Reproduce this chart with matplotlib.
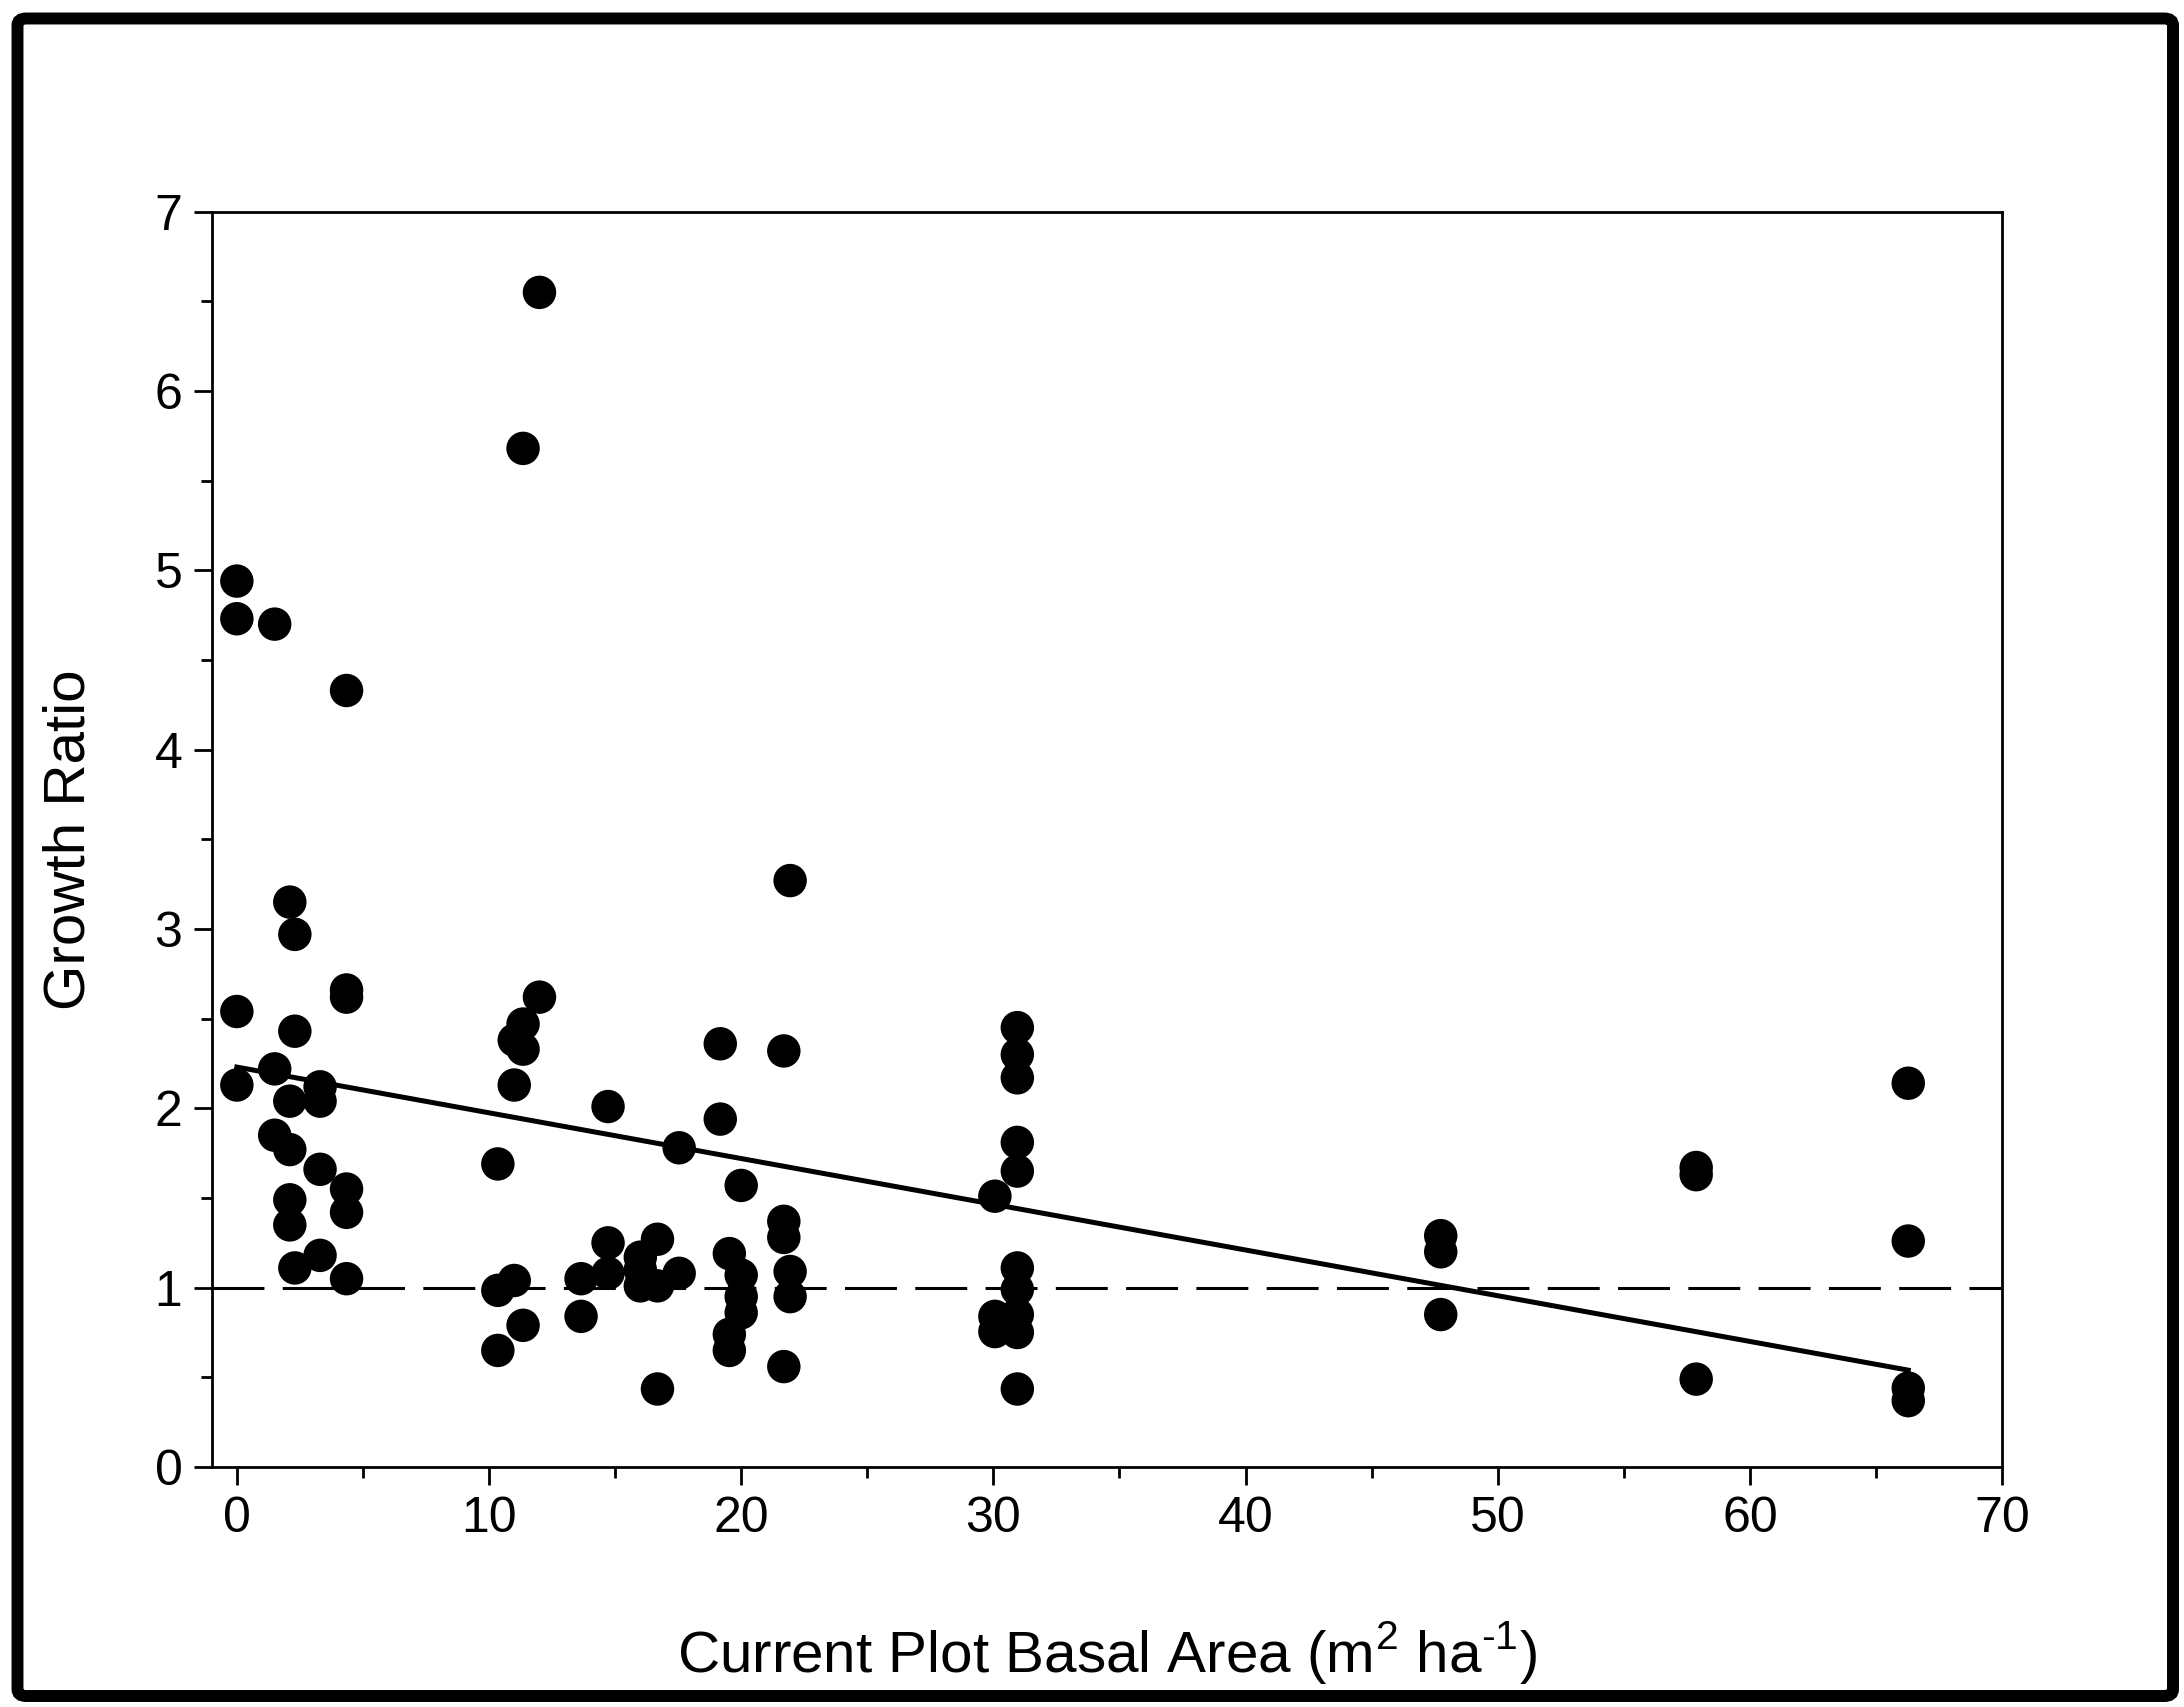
import matplotlib
matplotlib.use("Agg")
import matplotlib.pyplot as plt
from matplotlib.patches import FancyBboxPatch
from matplotlib.ticker import MultipleLocator

plt.rcParams['font.family'] = ['Liberation Sans', 'DejaVu Sans']

# basal area (x) and growth ratio (y)
basal_area = [0, 0, 0, 0,
              1.5, 1.5, 1.5,
              2.1, 2.1, 2.1, 2.1, 2.1,
              2.3, 2.3, 2.3,
              3.3, 3.3, 3.3, 3.3,
              4.35, 4.35, 4.35, 4.35, 4.35, 4.35,
              10.35, 10.35, 10.35,
              11.0, 11.0, 11.0,
              11.35, 11.35, 11.35, 11.35,
              12.0, 12.0,
              13.65, 13.65,
              14.72, 14.72, 14.72,
              16.0, 16.0, 16.0,
              16.68, 16.68, 16.68,
              17.54, 17.54,
              19.17, 19.17,
              19.53, 19.53, 19.53,
              20.0, 20.0, 20.0, 20.0,
              21.69, 21.69, 21.69, 21.69,
              21.94, 21.94, 21.94,
              30.06, 30.06, 30.06,
              30.95, 30.95, 30.95, 30.95, 30.95, 30.95, 30.95, 30.95, 30.95, 30.95,
              47.74, 47.74, 47.74,
              57.87, 57.87, 57.87,
              66.28, 66.28, 66.28, 66.28]
growth_ratio = [4.94, 4.73, 2.54, 2.13,
                4.70, 2.22, 1.85,
                3.15, 2.04, 1.77, 1.49, 1.35,
                2.97, 2.43, 1.11,
                2.12, 2.04, 1.66, 1.18,
                4.33, 2.66, 2.62, 1.55, 1.42, 1.05,
                1.69, 0.985, 0.65,
                2.38, 2.13, 1.04,
                5.68, 2.47, 2.33, 0.79,
                6.55, 2.62,
                1.05, 0.84,
                2.01, 1.25, 1.08,
                1.17, 1.10, 1.01,
                1.27, 1.01, 0.435,
                1.78, 1.08,
                2.36, 1.94,
                1.19, 0.74, 0.65,
                1.57, 1.07, 0.95, 0.86,
                2.32, 1.37, 1.28, 0.56,
                3.27, 1.09, 0.95,
                1.51, 0.84, 0.755,
                2.45, 2.30, 2.17, 1.81, 1.65, 1.11, 0.99, 0.85, 0.75, 0.435,
                1.29, 1.20, 0.85,
                1.67, 1.63, 0.49,
                2.14, 1.26, 0.44, 0.37]

# regression line end points and reference line
fit_x = [0, 66.28]
fit_y = [2.23, 0.54]
ref_y = 1.0

fig = plt.figure(figsize=(21.84, 17.07), dpi=100)
ax = fig.add_axes([0.0969, 0.1406, 0.8198, 0.7354])

ax.axhline(ref_y, color='black', lw=2.2, dashes=(17, 6), zorder=1)
ax.plot(fit_x, fit_y, color='black', lw=3.6, zorder=2)
ax.scatter(basal_area, growth_ratio, s=580, color='black', edgecolors='none', zorder=3)

ax.set_xlim(-1, 70)
ax.set_ylim(0, 7)
ax.xaxis.set_major_locator(MultipleLocator(10))
ax.xaxis.set_minor_locator(MultipleLocator(5))
ax.yaxis.set_major_locator(MultipleLocator(1))
ax.yaxis.set_minor_locator(MultipleLocator(0.5))
ax.tick_params(which='major', direction='out', length=13, width=2, labelsize=36, pad=8)
ax.tick_params(which='minor', direction='out', length=8, width=2)
for sp in ax.spines.values():
    sp.set_linewidth(2)

ax.set_xlabel('Current Plot Basal Area (m$^{\\mathregular{2}}$ ha$^{\\mathregular{\u20101}}$)', fontsize=42, labelpad=56)
ax.set_ylabel('Growth Ratio', fontsize=42, labelpad=42)

# thick black frame around the whole figure
frame = FancyBboxPatch((17.5 / 2184, 11 / 1707), (2173 - 17.5) / 2184, (1688.5 - 11) / 1707,
                       boxstyle='round,pad=0,rounding_size=0.004', transform=fig.transFigure,
                       fill=False, edgecolor='black', linewidth=8.6)
fig.patches.append(frame)

plt.savefig('out.png', dpi=100)
